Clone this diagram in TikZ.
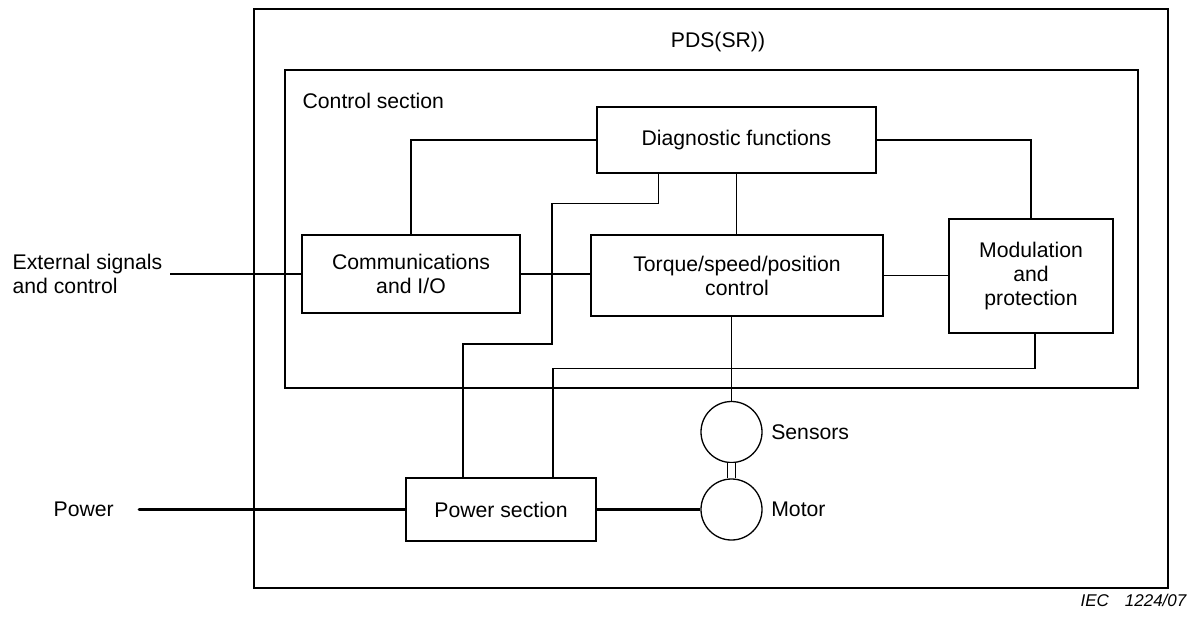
\documentclass[tikz,border=0pt]{standalone}
\usepackage{fontspec}
\setmainfont{Liberation Sans}
\usetikzlibrary{positioning}

\begin{document}
\begin{tikzpicture}[x = 0.5pt, y = -0.5pt, line width = 0.65pt,
		font = \fontsize{10.6}{12}\selectfont,
		blk/.style = {draw, align = center, inner sep = 0pt},
		unit/.style = {draw, circle, inner sep = 0pt, minimum size = 30.5pt},
		mains/.style = {line width = 1.4pt}]
			\useasboundingbox (0,0) rectangle (1196,617);
			%frames
			\draw (254,9) rectangle (1168,588);
			\draw (285,70) rectangle (1138,388);
			\node (pds) at (718,42) {PDS(SR))};
			\node[anchor = west, inner sep = 0pt] (ctrl) at (302,101) {Control section};
			%blocks
			\node[blk, minimum width = 139.5pt, minimum height = 33pt] (diag) at (736.5,140) {Diagnostic functions};
			\node[blk, minimum width = 109pt, minimum height = 39pt] (comm) at (411,274) {Communications\\and I/O};
			\node[blk, minimum width = 146pt, minimum height = 40.5pt] (torque) at (737,275.5) {Torque/speed/position\\control};
			\node[blk, minimum width = 82pt, minimum height = 57pt] (mod) at (1031,276) {Modulation\\and\\protection};
			\node[blk, minimum width = 95pt, minimum height = 31.5pt] (power) at (501,509.5) {Power section};
			\node[unit] (sens) at (731.5,432) {};
			\node[unit] (motor) at (731.5,509.5) {};
			\node[right = 4pt of sens, inner sep = 0pt] (senslbl) {Sensors};
			\node[right = 4pt of motor, inner sep = 0pt] (motorlbl) {Motor};
			\node[anchor = west, align = left, inner sep = 0pt] (ext) at (12,274) {External signals\\and control};
			\node[anchor = west, inner sep = 0pt] (pwr) at (53,509.5) {Power};
			\node[anchor = east, inner sep = 0pt, font = \fontsize{8.5}{10}\selectfont\itshape] (iec) at (1187,600) {IEC\hspace{8pt}1224/07};
			\coordinate (extin) at (170,274);
			\coordinate (pwrin) at (139,509.5);
			%signal lines
			\draw (extin) -- (comm.west);
			\draw (comm.east) -- (comm.east -| torque.west);
			\draw (torque.east) -- (torque.east -| mod.west);
			\draw (comm.north) |- (diag.west);
			\draw (diag.east) -| (mod.north);
			\draw (diag.south) -- (diag.south |- torque.north);
			\draw (torque.south -| sens.north) -- (sens.north);
			\draw ([xshift = -39pt]diag.south) -- ++(0,30) -| (552,344) -| ([xshift = -19pt]power.north);
			\draw ([xshift = 2pt]mod.south) -- ++(0,35) -| ([xshift = 26pt]power.north);
			%shaft
			\draw[double, double distance = 3.4pt] (sens.south) -- (motor.north);
			%power lines
			\draw[mains, line cap = round] (pwrin) -- (power.west);
			\draw[mains] (power.east) -- (motor.west);
		\end{tikzpicture}
\end{document}
